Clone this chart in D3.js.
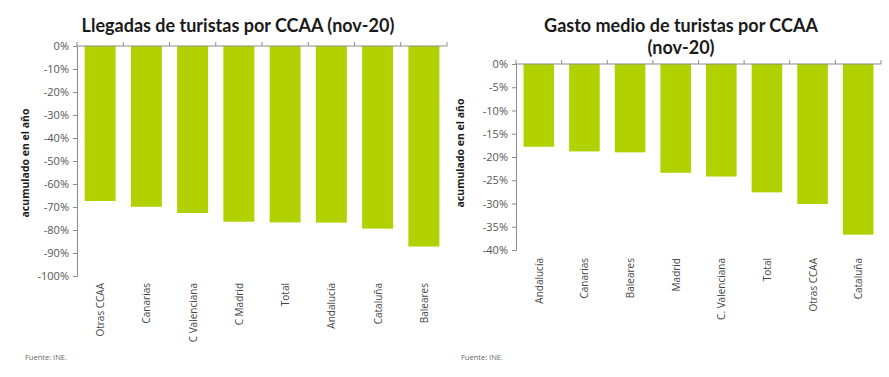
<!DOCTYPE html>
<html lang="es">
<head>
<meta charset="UTF-8">
<title>Turistas por CCAA</title>
<script src="https://cdn.jsdelivr.net/npm/d3@7"></script>
<style>
    body { margin: 0; background: #fff; }
    svg { display: block; }
    .title { font-family: Lato, sans-serif; font-weight: bold; font-size: 18px; fill: #1a1a1a; }
    .ylab { font-family: "Open Sans", sans-serif; font-weight: bold; font-size: 10.5px; fill: #1a1a1a; }
    .tick text { font-family: "Open Sans", sans-serif; font-size: 11px; fill: #555; }
    .xlab { font-family: "Open Sans", sans-serif; font-size: 10px; fill: #444; }
    .src { font-family: "Open Sans", sans-serif; font-size: 7.5px; fill: #666; }
</style>
</head>
<body>
<svg id="chart" width="889" height="377"></svg>
<script>
// llegadas (izquierda)
const llegadasCats = ["Otras CCAA", "Canarias", "C Valenciana", "C Madrid", "Total", "Andalucía", "Cataluña", "Baleares"];
const llegadasVals = [-67.4, -69.9, -72.6, -76.4, -76.7, -76.8, -79.4, -87.2];
const llegadasTicks = [0, -10, -20, -30, -40, -50, -60, -70, -80, -90, -100];

// gasto medio (derecha)
const gastoCats = ["Andalucía", "Canarias", "Baleares", "Madrid", "C. Valenciana", "Total", "Otras CCAA", "Cataluña"];
const gastoVals = [-17.8, -18.8, -19.0, -23.4, -24.2, -27.6, -30.1, -36.7];
const gastoTicks = [0, -5, -10, -15, -20, -25, -30, -35, -40];

const green = "#b2d100";
const axisCol = "#8c8c8c";
const svg = d3.select("#chart");

function drawChart(o) {
    const g = svg.append("g");
    const x = d3.scaleBand().domain(o.cats).range([o.x0, o.x1]).paddingInner(0.33).paddingOuter(0.165);
    const y = d3.scaleLinear().domain([0, o.min]).range([o.y0, o.y1]);

    g.selectAll("rect.bar")
        .data(o.vals)
        .enter()
        .append("rect")
        .attr("class", "bar")
        .attr("x", (d, i) => x(o.cats[i]))
        .attr("y", y(0))
        .attr("width", x.bandwidth())
        .attr("height", d => y(d) - y(0))
        .attr("fill", green);

    // eje y
    const yAxis = d3.axisLeft(y).tickValues(o.ticks).tickSize(4).tickPadding(4)
        .tickFormat(d => d + "%");
    const ya = g.append("g").attr("transform", `translate(${o.x0},0)`).call(yAxis);
    ya.selectAll("path, line").attr("stroke", axisCol);

    // eje x en 0 con marcas entre categorias
    g.append("line")
        .attr("x1", o.x0).attr("x2", o.x1)
        .attr("y1", y(0)).attr("y2", y(0))
        .attr("stroke", axisCol);
    const bounds = d3.range(o.cats.length + 1).map(i => o.x0 + i * (o.x1 - o.x0) / o.cats.length);
    g.selectAll("line.xt")
        .data(bounds)
        .enter()
        .append("line")
        .attr("x1", d => d).attr("x2", d => d)
        .attr("y1", y(0)).attr("y2", y(0) - 4)
        .attr("stroke", axisCol);

    // etiquetas de categoria
    g.selectAll("text.xlab")
        .data(o.cats)
        .enter()
        .append("text")
        .attr("class", "xlab")
        .attr("transform", d => `translate(${x(d) + x.bandwidth() / 2 + 4},${o.labY}) rotate(-90)`)
        .attr("text-anchor", "end")
        .text(d => d);

    // titulo
    o.title.forEach((t, i) => {
        g.append("text")
            .attr("class", "title")
            .attr("x", o.titleX)
            .attr("y", o.titleY + i * 22)
            .attr("text-anchor", "middle")
            .text(t);
    });

    g.append("text")
        .attr("class", "ylab")
        .attr("transform", `translate(${o.ylabX},${(o.y0 + o.y1) / 2 + o.ylabDy}) rotate(-90)`)
        .attr("text-anchor", "middle")
        .text("acumulado en el año");

    g.append("text")
        .attr("class", "src")
        .attr("x", o.srcX)
        .attr("y", 360)
        .text("Fuente: INE.");
}

drawChart({
    cats: llegadasCats, vals: llegadasVals, ticks: llegadasTicks, min: -100,
    x0: 77, x1: 447, y0: 46, y1: 276, labY: 283,
    title: ["Llegadas de turistas por CCAA (nov-20)"], titleX: 238, titleY: 32,
    ylabX: 29, ylabDy: 2, srcX: 25
});

drawChart({
    cats: gastoCats, vals: gastoVals, ticks: gastoTicks, min: -40,
    x0: 516, x1: 881, y0: 64, y1: 250, labY: 258,
    title: ["Gasto medio de turistas por CCAA", "(nov-20)"], titleX: 681, titleY: 32,
    ylabX: 464, ylabDy: -4, srcX: 461
});
</script>
</body>
</html>
